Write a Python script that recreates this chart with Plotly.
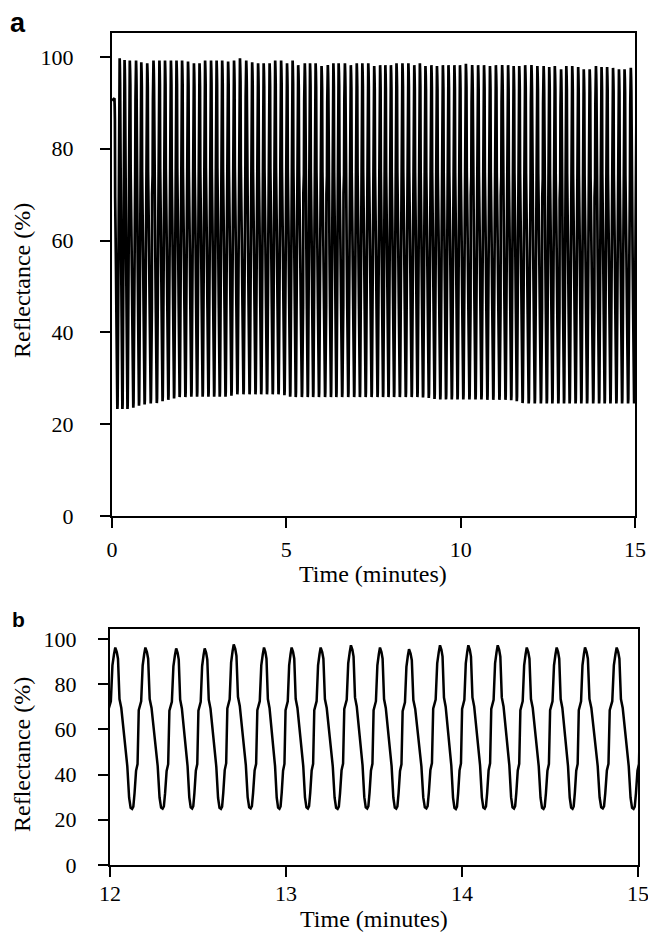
import plotly.graph_objects as go

# ---------------- data ----------------
# one cycle of the oscillation as seen in panel b (seconds after a peak, reflectance %)
# read from a cycle whose peak was ~97 % and trough ~25 %
shape_s = [0.0, 0.5, 0.9, 1.4, 2.0, 3.0, 4.0, 4.6, 5.1, 5.6, 6.0, 6.4, 6.9, 7.4, 7.8, 8.6, 9.1, 9.6]
shape_v = [97, 95, 92, 74, 70, 57, 44, 30, 25.5, 25, 26, 32, 42, 45, 69, 73, 89, 94]
shape_peak, shape_trough, shape_period = 97.0, 25.0, 10.0

# panel a: peak times (min), peak reflectance (%), trough reflectance after each peak (%)
start_a = (0.0, 90.5)
peak_t_a = [0.07, 0.22, 0.36, 0.51, 0.69, 0.84, 1.01, 1.19, 1.36, 1.52,
            1.69, 1.85, 2.01, 2.18, 2.35, 2.51, 2.67, 2.84, 3.00, 3.16,
            3.33, 3.50, 3.67, 3.85, 4.02, 4.19, 4.35, 4.52, 4.68, 4.85,
            5.02, 5.18, 5.34, 5.53, 5.68, 5.84, 6.01, 6.19, 6.35, 6.50,
            6.68, 6.85, 7.02, 7.18, 7.35, 7.52, 7.69, 7.84, 8.00, 8.16,
            8.33, 8.50, 8.67, 8.83, 8.99, 9.16, 9.32, 9.49, 9.65, 9.82,
            9.98, 10.15, 10.33, 10.50, 10.67, 10.84, 11.01, 11.19, 11.36, 11.52,
            11.68, 11.85, 12.03, 12.20, 12.38, 12.54, 12.70, 12.88, 13.03, 13.20,
            13.37, 13.53, 13.70, 13.88, 14.04, 14.20, 14.37, 14.54, 14.70, 14.88,
            15.05]
peak_v_a = [91.0, 99.7, 99.3, 99.2, 99.2, 98.8, 98.6, 99.2, 99.2, 99.2,
            99.2, 99.2, 99.2, 99.0, 98.6, 98.6, 99.2, 99.2, 99.2, 99.2,
            99.0, 99.2, 99.7, 99.2, 98.8, 98.6, 98.6, 98.6, 99.2, 99.2,
            98.6, 99.2, 98.2, 98.6, 98.6, 98.6, 98.0, 98.2, 98.6, 98.6,
            98.6, 98.2, 98.6, 98.6, 98.6, 98.0, 98.2, 98.2, 98.2, 98.6,
            98.6, 98.6, 98.2, 98.6, 98.0, 98.2, 98.0, 98.2, 98.2, 98.2,
            98.2, 98.5, 98.2, 98.2, 98.2, 98.0, 98.2, 98.2, 98.2, 98.0,
            98.0, 98.2, 98.2, 98.0, 98.0, 97.8, 98.0, 97.3, 98.0, 98.0,
            97.8, 97.3, 97.3, 98.0, 97.8, 97.8, 97.6, 97.3, 97.3, 97.6,
            97.5]
trough_v_a = [23.3, 23.3, 23.3, 23.6, 24.0, 24.3, 24.5, 24.6, 25.0, 25.3,
              25.6, 25.9, 25.9, 26.0, 26.0, 26.0, 26.0, 26.0, 26.0, 26.0,
              26.2, 26.5, 26.5, 26.5, 26.5, 26.5, 26.5, 26.5, 26.5, 26.3,
              26.0, 25.9, 25.9, 25.9, 25.9, 25.9, 25.9, 25.9, 25.9, 25.9,
              25.9, 25.9, 25.9, 25.9, 25.9, 25.9, 25.9, 25.9, 25.9, 25.9,
              25.9, 25.9, 25.9, 25.8, 25.7, 25.5, 25.4, 25.4, 25.4, 25.4,
              25.4, 25.4, 25.4, 25.4, 25.3, 25.3, 25.3, 25.3, 25.2, 25.0,
              24.6, 24.5, 24.5, 24.5, 24.5, 24.5, 24.5, 24.5, 24.5, 24.5,
              24.5, 24.5, 24.5, 24.5, 24.5, 24.5, 24.5, 24.5, 24.5, 24.5,
              24.5]

# panel b: the 12-15 min window
peak_t_b = [11.85, 12.030, 12.201, 12.376, 12.538, 12.703, 12.875, 13.032, 13.197, 13.369,
            13.534, 13.699, 13.875, 14.036, 14.203, 14.368, 14.538, 14.699, 14.879, 15.05]
peak_v_b = [97.0, 96.2, 96.2, 95.8, 95.8, 97.6, 96.2, 96.2, 96.2, 97.2,
            96.2, 95.5, 97.2, 97.2, 97.2, 96.2, 96.2, 96.2, 96.2, 96.5]
trough_v_b = [25.0, 24.8, 24.9, 25.0, 24.8, 25.0, 24.9, 25.0, 24.8, 25.0,
              24.9, 25.0, 24.8, 24.9, 25.0, 24.8, 24.9, 25.0, 24.8, 25.0]

xticks_a = [0, 5, 10, 15]
xticks_b = [12, 13, 14, 15]
yticks = [0, 20, 40, 60, 80, 100]


def build(peak_t, peak_v, trough_v, start=None):
    xs, ys = [], []
    if start is not None:
        xs.append(start[0]); ys.append(start[1])
    trough_s = shape_s[shape_v.index(min(shape_v))]
    for i in range(len(peak_t) - 1):
        period = peak_t[i + 1] - peak_t[i]
        for s, v in zip(shape_s, shape_v):
            frac = (v - shape_trough) / (shape_peak - shape_trough)
            p = peak_v[i] if s <= trough_s else peak_v[i + 1]
            xs.append(peak_t[i] + s / shape_period * period)
            ys.append(trough_v[i] + frac * (p - trough_v[i]))
    xs.append(peak_t[-1]); ys.append(peak_v[-1])
    return xs, ys


xa, ya = build(peak_t_a, peak_v_a, trough_v_a, start_a)
xb, yb = build(peak_t_b, peak_v_b, trough_v_b)

W, H = 648, 933
SERIF = "Liberation Serif"
SANS = "Liberation Sans"


def fx(px):
    return px / W


def fy(py):
    return 1 - py / H


fig = go.Figure()
fig.add_trace(go.Scatter(x=xa, y=ya, mode="lines", line=dict(color="black", width=2.7),
                         xaxis="x", yaxis="y", showlegend=False, hoverinfo="skip"))
fig.add_trace(go.Scatter(x=xb, y=yb, mode="lines", line=dict(color="black", width=2.5),
                         xaxis="x2", yaxis="y2", showlegend=False, hoverinfo="skip"))

axis_common = dict(showline=True, linecolor="black", linewidth=2, mirror=True,
                   ticks="outside", ticklen=10, tickwidth=1.5, tickcolor="black",
                   showgrid=False, zeroline=False, automargin=False,
                   ticklabeloverflow="allow",
                   tickfont=dict(family=SERIF, size=22, color="black"))

fig.update_layout(
    template="none",
    width=W, height=H,
    margin=dict(l=0, r=0, t=0, b=0, pad=0),
    paper_bgcolor="white", plot_bgcolor="white",
    font=dict(family=SERIF, color="black"),
    xaxis=dict(domain=[fx(112), fx(635)], anchor="y", range=[0, 15], tickvals=xticks_a,
               ticklabelstandoff=3, **axis_common),
    yaxis=dict(domain=[fy(516), fy(33)], anchor="x", range=[0, 105.2], tickvals=yticks,
               ticklabelstandoff=22, **axis_common),
    xaxis2=dict(domain=[fx(110), fx(638)], anchor="y2", range=[12, 15], tickvals=xticks_b,
                ticklabelstandoff=-2, **axis_common),
    yaxis2=dict(domain=[fy(865), fy(629)], anchor="x2", range=[0, 104.4], tickvals=yticks,
                ticklabelstandoff=17, **axis_common),
)


def px_ann(text, x, y, size, family, bold=False, angle=0, xanchor="center"):
    fig.add_annotation(text=f"<b>{text}</b>" if bold else text,
                       x=fx(x), y=fy(y), xref="paper", yref="paper",
                       xanchor=xanchor, yanchor="middle", showarrow=False,
                       textangle=angle, font=dict(family=family, size=size, color="black"))


px_ann("Time (minutes)", 373, 574, 24, SERIF)
px_ann("Reflectance (%)", 22, 281, 24, SERIF, angle=-90)
px_ann("Time (minutes)", 374, 919, 24, SERIF)
px_ann("Reflectance (%)", 22, 755, 24, SERIF, angle=-90)
px_ann("a", 8, 23, 27, SANS, bold=True, xanchor="left")
px_ann("b", 10, 619, 21, SANS, bold=True, xanchor="left")

# remove the default page margin so the 648x933 figure fills the window exactly
fig.write_html("out.html", config={"displayModeBar": False},
               post_script="document.body.style.margin='0';")
